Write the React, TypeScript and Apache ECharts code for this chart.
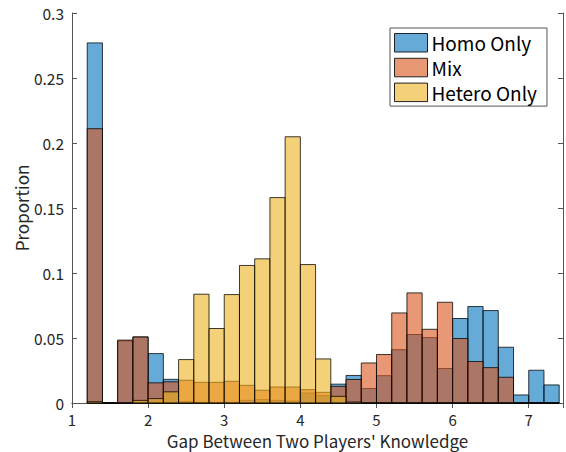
import React, { useEffect, useRef } from "react";
import * as echarts from "echarts";

const binEdges = [1.2, 1.4, 1.6, 1.8, 2.0, 2.2, 2.4, 2.6, 2.8, 3.0, 3.2, 3.4, 3.6, 3.8, 4.0, 4.2, 4.4, 4.6, 4.8, 5.0, 5.2, 5.4, 5.6, 5.8, 6.0, 6.2, 6.4, 6.6, 6.8, 7.0, 7.2, 7.4];

const homoOnly = [0.277, 0, 0.0478, 0.0508, 0.038, 0.0182, 0.001, 0.0005, 0.0005, 0.0005, 0.002, 0.0026, 0.002, 0.0015, 0.0077, 0.0057, 0.0145, 0.0212, 0.0111, 0.021, 0.041, 0.0527, 0.0503, 0.0265, 0.065, 0.0742, 0.0711, 0.0429, 0.0062, 0.0252, 0.0139];
const mix = [0.211, 0, 0.0484, 0.0508, 0.0155, 0.0163, 0.0175, 0.0159, 0.0159, 0.0167, 0.0136, 0.0098, 0.0123, 0.0123, 0.0103, 0.0082, 0.0128, 0.0181, 0.0308, 0.0373, 0.0693, 0.0847, 0.0567, 0.0775, 0.0496, 0.0319, 0.0272, 0.0198, 0, 0, 0];
const heteroOnly = [0.001, 0, 0, 0.002, 0.0034, 0.0086, 0.0334, 0.0837, 0.0573, 0.0834, 0.1058, 0.1109, 0.158, 0.2048, 0.1065, 0.0339, 0.0051, 0.0008, 0, 0, 0, 0, 0, 0, 0, 0, 0, 0, 0, 0, 0];

const seriesNames = ["Homo Only", "Mix", "Hetero Only"];
const seriesColors = ["rgba(0,114,189,0.6)", "rgba(217,83,25,0.6)", "rgba(237,177,32,0.6)"];
const yTicks = ["0", "0.05", "0.1", "0.15", "0.2", "0.25", "0.3"];

const FONT = '"Noto Sans CJK JP", "Noto Sans", sans-serif';
const AXIS_COLOR = "#262626";

function toData(vals: number[]) {
  return vals.map((v, i) => [binEdges[i], binEdges[i + 1], v]);
}

export default function App() {
  const ref = useRef<HTMLDivElement>(null);
  useEffect(() => {
    if (!ref.current) return;
    const chart = echarts.init(ref.current, undefined, { renderer: "svg" });
    const allVals = [homoOnly, mix, heteroOnly];
    const renderItem = (color: string) => (params: any, api: any) => {
      const x0 = api.value(0);
      const x1 = api.value(1);
      const y = api.value(2);
      const p0 = api.coord([x0, 0]);
      const p1 = api.coord([x1, y]);
      return {
        type: "rect",
        shape: { x: p0[0], y: p1[1], width: p1[0] - p0[0], height: p0[1] - p1[1] },
        style: { fill: color, stroke: "rgba(0,0,0,0.85)", lineWidth: 0.9 },
      };
    };
    const axisLine = { show: true, lineStyle: { color: "#555", width: 1 } };
    const tick = { show: true, inside: true, length: 5, lineStyle: { color: "#555", width: 1 } };
    chart.setOption({
      animation: false,
      grid: { left: 72, top: 13, right: 3, bottom: 49, show: false, containLabel: false, outerBoundsMode: "none" },
      legend: {
        orient: "vertical",
        left: 390,
        top: 28,
        padding: [5, 5, 4, 4],
        itemGap: 5.3,
        itemWidth: 33,
        itemHeight: 18.5,
        icon: "rect",
        backgroundColor: "#fff",
        borderColor: "#555",
        borderWidth: 1,
        textStyle: { fontFamily: FONT, fontSize: 19, lineHeight: 19, color: "#000", padding: [0, 5, 0, -1] },
        data: seriesNames.map((n, i) => ({
          name: n,
          itemStyle: { color: seriesColors[i], borderColor: "#222", borderWidth: 1 },
        })),
      },
      xAxis: [
        {
          type: "value",
          min: 1,
          max: 7.45,
          interval: 1,
          position: "bottom",
          axisLine,
          axisTick: tick,
          splitLine: { show: false },
          axisLabel: { color: AXIS_COLOR, fontFamily: FONT, fontSize: 15, lineHeight: 15, margin: 9, showMaxLabel: false },
          name: "Gap Between Two Players' Knowledge",
          nameLocation: "middle",
          nameGap: 29,
          nameMoveOverlap: false,
          nameTextStyle: { color: AXIS_COLOR, fontFamily: FONT, fontSize: 17, lineHeight: 17 },
        },
        {
          type: "value",
          min: 1,
          max: 7.45,
          interval: 1,
          position: "top",
          axisLine,
          axisTick: tick,
          splitLine: { show: false },
          axisLabel: { show: false },
        },
      ],
      yAxis: [
        {
          type: "value",
          min: 0,
          max: 0.3,
          interval: 0.05,
          position: "left",
          axisLine,
          axisTick: tick,
          splitLine: { show: false },
          axisLabel: {
            color: AXIS_COLOR,
            fontFamily: FONT,
            fontSize: 15.5,
            margin: 8,
            formatter: (v: number) => yTicks[Math.round(v / 0.05)] ?? String(v),
          },
          name: "Proportion",
          nameLocation: "middle",
          nameGap: 42,
          nameMoveOverlap: false,
          nameTextStyle: { color: AXIS_COLOR, fontFamily: FONT, fontSize: 17, lineHeight: 17 },
        },
        {
          type: "value",
          min: 0,
          max: 0.3,
          interval: 0.05,
          position: "right",
          axisLine,
          axisTick: tick,
          splitLine: { show: false },
          axisLabel: { show: false },
        },
      ],
      series: seriesNames.map((n, i) => ({
        name: n,
        type: "custom",
        xAxisIndex: 0,
        yAxisIndex: 0,
        itemStyle: { color: seriesColors[i], borderColor: "#222", borderWidth: 1 },
        encode: { x: [0, 1], y: 2 },
        renderItem: renderItem(seriesColors[i]),
        data: toData(allVals[i]),
      })),
    });
    return () => chart.dispose();
  }, []);
  return (
    <div
      ref={ref}
      style={{ position: "absolute", left: 0, top: 0, width: 566, height: 452, background: "#fff" }}
    />
  );
}
